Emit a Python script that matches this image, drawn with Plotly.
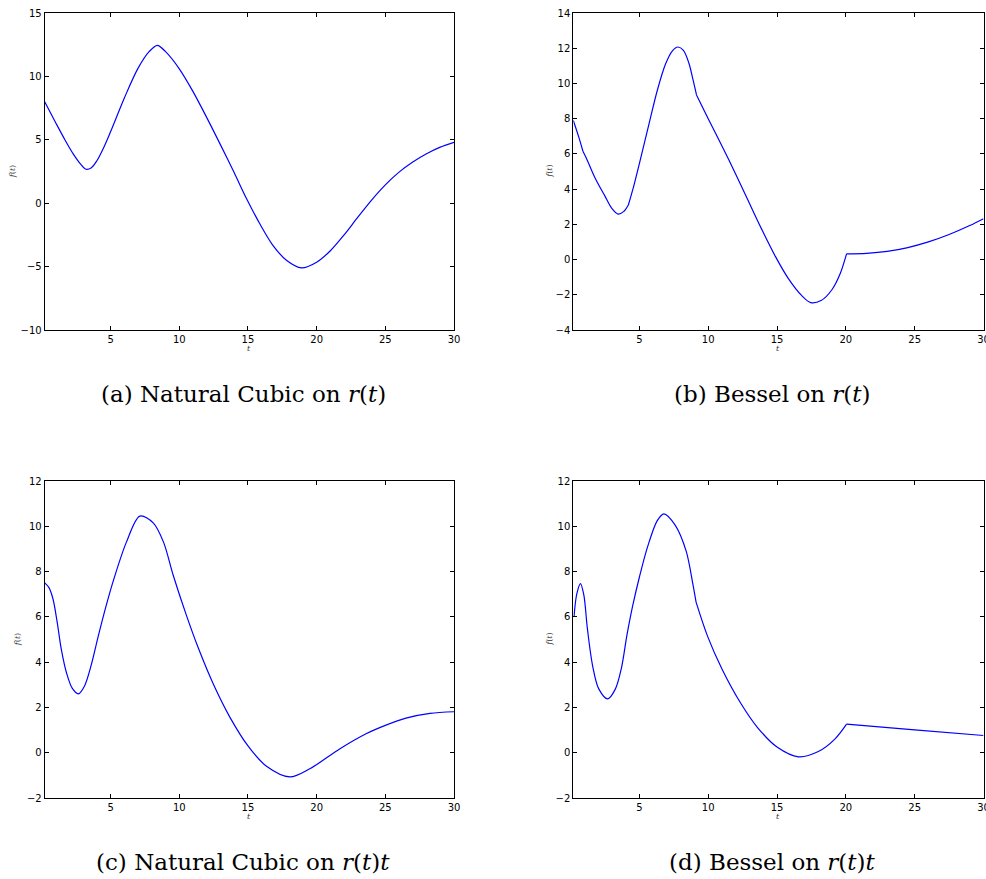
import plotly.graph_objects as go

# Sample points of each interpolated curve f(t)
t_a = [0.2, 1.0, 1.7, 2.3, 2.8, 3.2, 3.6, 4.0, 4.5, 5.0, 6.0, 7.0, 7.8, 8.4, 9.0, 10.0, 11.0, 12.0, 13.0, 14.0,
       14.9, 15.9, 16.8, 17.8, 18.9, 20.0, 21.0, 22.0, 23.0, 24.0, 25.0, 26.0, 27.0, 28.0, 29.0, 30.0]
f_a = [8.0, 6.35, 4.95, 3.85, 3.1, 2.68, 2.8, 3.35, 4.4, 5.65, 8.3, 10.65, 11.95, 12.45, 11.95, 10.6, 8.8, 6.75,
       4.6, 2.4, 0.35, -1.7, -3.3, -4.5, -5.1, -4.65, -3.75, -2.5, -1.1, 0.25, 1.45, 2.45, 3.25, 3.9, 4.42, 4.8]

t_b = [0.2, 0.6, 0.9, 1.15, 1.8, 2.5, 3.0, 3.45, 3.85, 4.2, 4.6, 5.0, 5.7, 6.3, 6.9, 7.4, 7.8, 8.2, 8.6, 8.9,
       9.15, 10.0, 11.0, 12.0, 12.9, 13.9, 14.9, 15.8, 16.8, 17.45, 18.2, 19.0, 19.6, 20.05, 21.5, 23.0, 24.5,
       26.0, 27.5, 29.0, 30.0]
f_b = [7.9, 6.95, 6.15, 5.75, 4.6, 3.6, 2.9, 2.58, 2.72, 3.1, 4.2, 5.45, 7.7, 9.6, 11.1, 11.85, 12.07, 11.88,
       11.15, 10.2, 9.35, 8.0, 6.45, 4.85, 3.35, 1.7, 0.15, -1.05, -2.05, -2.45, -2.33, -1.7, -0.78, 0.32, 0.35,
       0.46, 0.68, 1.0, 1.42, 1.93, 2.32]

t_c = [0.2, 0.5, 0.8, 1.1, 1.4, 1.8, 2.2, 2.65, 3.1, 3.6, 4.1, 4.7, 5.2, 6.15, 7.13, 8.1, 8.85, 9.55, 10.5, 11.4,
       12.5, 13.7, 15.0, 16.35, 18.05, 19.5, 21.7, 23.6, 25.0, 26.5, 28.25, 30.0]
f_c = [7.5, 7.3, 6.8, 5.8, 4.6, 3.5, 2.85, 2.6, 2.95, 3.9, 5.15, 6.55, 7.6, 9.3, 10.45, 10.15, 9.3, 7.85, 6.1, 4.6,
       3.0, 1.55, 0.3, -0.6, -1.07, -0.71, 0.18, 0.84, 1.21, 1.53, 1.74, 1.81]

t_d = [0.25, 0.45, 0.72, 0.97, 1.22, 1.6, 2.05, 2.7, 3.26, 3.7, 4.1, 4.5, 5.0, 5.6, 6.3, 6.78, 7.6, 8.4, 8.9, 9.12,
       9.95, 11.0, 12.4, 13.6, 15.0, 16.55, 18.0, 19.2, 20.05, 25.0, 30.0]
f_d = [6.0, 7.0, 7.47, 6.95, 5.5, 3.85, 2.82, 2.38, 2.82, 3.75, 5.2, 6.45, 7.75, 9.1, 10.25, 10.55, 10.05, 8.9,
       7.4, 6.65, 5.15, 3.7, 2.15, 1.1, 0.25, -0.18, 0.05, 0.6, 1.26, 1.01, 0.76]

# Knots where the Bessel curves are only C0 (kept sharp)
kinks_b = [0.9, 4.2, 9.15, 20.05]
kinks_d = [9.12, 20.05]

x_ticks = [5, 10, 15, 20, 25, 30]
captions = [
    "(a) Natural Cubic on <i>r</i>(<i>t</i>)",
    "(b) Bessel on <i>r</i>(<i>t</i>)",
    "(c) Natural Cubic on <i>r</i>(<i>t</i>)<i>t</i>",
    "(d) Bessel on <i>r</i>(<i>t</i>)<i>t</i>",
]
y_ranges = [(-10, 15, 5), (-4, 14, 2), (-2, 12, 2), (-2, 12, 2)]

W, H = 986, 879
# panel boxes in pixels: left, right, top, bottom
boxes = [(44.7, 454.0, 13.0, 330.0), (573.3, 983.5, 13.0, 330.0),
         (44.7, 454.0, 481.0, 798.0), (573.3, 983.5, 481.0, 798.0)]
ylab_off = [32, 24, 27, 24]

series = [(t_a, f_a, []), (t_b, f_b, kinks_b), (t_c, f_c, []), (t_d, f_d, kinks_d)]

fig = go.Figure()
annotations = []
layout = {}

for i, ((t, f, kinks), (l, r, top, bot), (y0, y1, dy), cap) in enumerate(zip(series, boxes, y_ranges, captions)):
    sfx = "" if i == 0 else str(i + 1)
    # split into smooth pieces at the C0 knots
    cuts = [0] + [t.index(k) for k in kinks] + [len(t) - 1]
    for a, b in zip(cuts[:-1], cuts[1:]):
        fig.add_trace(go.Scatter(
            x=t[a:b + 1], y=f[a:b + 1], mode="lines",
            line=dict(color="#0000ff", width=1.2, shape="spline", smoothing=0.9),
            xaxis="x" + sfx, yaxis="y" + sfx, showlegend=False, hoverinfo="skip"))

    common = dict(showline=True, linecolor="black", linewidth=1, mirror="ticks",
                  ticks="inside", ticklen=4, tickwidth=1, tickcolor="black",
                  showgrid=False, zeroline=False, automargin=False,
                  ticklabeloverflow="allow",
                  tickfont=dict(family="DejaVu Sans", size=10, color="black"))
    layout["xaxis" + sfx] = dict(common, domain=[l / W, r / W], range=[0.2, 30],
                                 tickvals=x_ticks, anchor="y" + sfx)
    layout["yaxis" + sfx] = dict(common, domain=[1 - bot / H, 1 - top / H], range=[y0, y1],
                                 tickvals=list(range(y0, y1 + 1, dy)), anchor="x" + sfx)

    cx = (l + r) / 2
    annotations.append(dict(text="<i>t</i>", x=cx / W, y=1 - (bot + 18) / H, xref="paper", yref="paper",
                            showarrow=False, font=dict(family="DejaVu Serif", size=8, color="#333333"),
                            xanchor="center", yanchor="middle"))
    annotations.append(dict(text="<i>f</i>(<i>t</i>)", x=(l - ylab_off[i]) / W, y=1 - (top + bot) / 2 / H,
                            xref="paper", yref="paper", textangle=-90, showarrow=False,
                            font=dict(family="DejaVu Serif", size=8, color="#333333"),
                            xanchor="center", yanchor="middle"))
    annotations.append(dict(text=cap, x=(cx - 6) / W, y=1 - (bot + 64) / H, xref="paper", yref="paper",
                            showarrow=False, font=dict(family="DejaVu Serif", size=23, color="black"),
                            xanchor="center", yanchor="middle"))

fig.update_layout(**layout)
fig.update_layout(width=W, height=H, margin=dict(l=0, r=0, t=0, b=0),
                  paper_bgcolor="white", plot_bgcolor="white",
                  annotations=annotations, showlegend=False)

fig.write_html("out.html")
